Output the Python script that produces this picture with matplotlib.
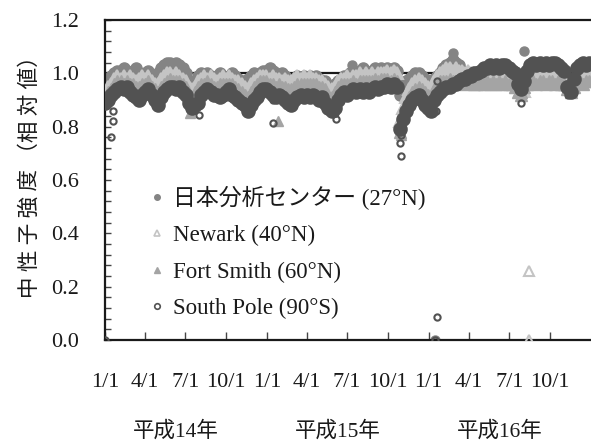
import matplotlib
matplotlib.use("Agg")
import matplotlib.pyplot as plt
import matplotlib.ticker as mticker
import matplotlib.transforms as mtransforms
import pandas as pd
from matplotlib.lines import Line2D

# ---- weekly relative neutron intensity, starting 2002-01-01 ----
start_date = "2002-01-01"
n_weeks = 157

jcac = [
    0.95, 0.97, 0.99, 1.00, 1.01, 1.00, 1.02, 1.01, 1.00, 1.01,
    1.02, 1.00, 0.99, 1.00, 1.01, 0.99, 0.98, 1.00, 1.02, 1.03,
    1.04, 1.04, 1.03, 1.04, 1.03, 1.02, 1.00, 0.97, 0.96, 0.97,
    0.99, 1.00, 0.99, 1.00, 0.99, 0.98, 0.99, 1.00, 0.99, 0.98,
    0.99, 1.00, 0.99, 0.98, 0.97, 0.96, 0.98, 0.99, 1.00, 0.99,
    1.00, 1.01, 1.01, 1.02, 1.01, 1.00, 0.99, 1.00, 0.99, 0.98,
    0.97, 0.98, 0.99, 0.98, 0.99, 0.98, 0.99, 0.98, 0.99, 0.98,
    0.97, 0.97, 0.95, 0.94, 0.96, 0.97, 0.98, 0.99, 0.99, 1.00,
    1.01, 1.00, 1.01, 1.02, 1.01, 1.00, 1.01, 1.02, 1.01, 1.02,
    1.01, 1.02, 1.01, 1.02, 1.01, 0.92, 0.95, 0.97, 0.98, 0.99,
    1.00, 1.00, 0.99, 0.98, 0.97, 0.96, 0.98, 0.99, 1.00, 1.02,
    1.03, 1.04, 1.05, 1.04, 1.03, 1.01, 1.00, 0.99, 0.99, 0.98,
    0.98, 0.98, 0.97, 0.98, 0.99, 0.98, 0.98, 0.99, 0.98, 0.98,
    0.97, 0.97, 0.96, 0.94, 0.95, 0.97, 0.98, 0.99, 0.98, 0.99,
    0.99, 0.98, 0.99, 0.98, 0.98, 0.99, 0.98, 0.98, 0.97, 0.95,
    0.94, 0.96, 0.98, 0.99, 0.98, 0.99, 0.98,
]

newark = [
    0.93, 0.95, 0.96, 0.98, 0.99, 0.98, 0.99, 0.98, 0.99, 0.98,
    0.97, 0.98, 0.99, 0.98, 0.99, 0.97, 0.96, 0.96, 0.98, 0.99,
    1.00, 1.00, 0.99, 1.00, 0.99, 0.98, 0.97, 0.95, 0.94, 0.95,
    0.97, 0.98, 0.99, 0.98, 0.99, 0.98, 0.97, 0.98, 0.99, 0.98,
    0.99, 0.98, 0.97, 0.97, 0.96, 0.95, 0.94, 0.96, 0.97, 0.98,
    0.99, 0.99, 0.99, 0.98, 0.99, 0.98, 0.98, 0.97, 0.98, 0.97,
    0.97, 0.98, 0.99, 0.98, 0.99, 0.98, 0.99, 0.98, 0.98, 0.97,
    0.97, 0.96, 0.95, 0.94, 0.95, 0.97, 0.98, 0.98, 0.99, 0.98,
    0.99, 0.99, 1.00, 0.99, 1.00, 0.99, 1.00, 0.99, 1.00, 1.00,
    1.00, 1.01, 1.00, 1.01, 1.00, 0.82, 0.87, 0.91, 0.94, 0.96,
    0.97, 0.98, 0.97, 0.96, 0.95, 0.94, 0.97, 0.99, 1.00, 1.01,
    1.02, 1.02, 1.01, 1.02, 1.01, 1.01, 1.00, 1.01, 1.00, 1.00,
    1.00, 0.99, 1.00, 0.99, 1.00, 0.99, 1.00, 0.99, 1.00, 0.99,
    0.99, 0.98, 0.97, 0.95, 0.94, 0.96, 0.98, 0.99, 1.00, 0.99,
    1.00, 0.99, 1.00, 0.99, 1.00, 0.99, 0.99, 0.98, 0.98, 0.96,
    0.95, 0.97, 0.99, 1.00, 0.99, 1.00, 0.99,
]

fort_smith = [
    0.91, 0.93, 0.94, 0.96, 0.97, 0.97, 0.96, 0.97, 0.96, 0.96,
    0.95, 0.95, 0.96, 0.96, 0.97, 0.95, 0.94, 0.93, 0.95, 0.96,
    0.97, 0.98, 0.97, 0.97, 0.97, 0.96, 0.95, 0.92, 0.91, 0.93,
    0.95, 0.96, 0.96, 0.97, 0.96, 0.95, 0.95, 0.96, 0.96, 0.96,
    0.96, 0.96, 0.95, 0.94, 0.93, 0.92, 0.91, 0.93, 0.95, 0.96,
    0.97, 0.97, 0.97, 0.96, 0.96, 0.95, 0.96, 0.95, 0.95, 0.94,
    0.94, 0.95, 0.96, 0.96, 0.96, 0.96, 0.96, 0.96, 0.96, 0.95,
    0.95, 0.94, 0.92, 0.91, 0.93, 0.95, 0.96, 0.96, 0.96, 0.96,
    0.97, 0.96, 0.97, 0.97, 0.97, 0.97, 0.97, 0.98, 0.97, 0.98,
    0.98, 0.98, 0.97, 0.98, 0.97, 0.78, 0.84, 0.88, 0.91, 0.93,
    0.94, 0.95, 0.94, 0.93, 0.92, 0.91, 0.94, 0.96, 0.97, 0.97,
    0.97, 0.98, 0.97, 0.97, 0.97, 0.97, 0.96, 0.97, 0.97, 0.96,
    0.96, 0.97, 0.96, 0.97, 0.96, 0.97, 0.96, 0.97, 0.96, 0.97,
    0.96, 0.96, 0.95, 0.93, 0.92, 0.95, 0.96, 0.97, 0.97, 0.96,
    0.97, 0.97, 0.96, 0.97, 0.97, 0.96, 0.97, 0.96, 0.96, 0.94,
    0.93, 0.95, 0.97, 0.97, 0.96, 0.97, 0.97,
]

south_pole = [
    0.89, 0.90, 0.92, 0.93, 0.94, 0.95, 0.94, 0.95, 0.93, 0.92,
    0.91, 0.90, 0.92, 0.93, 0.94, 0.92, 0.90, 0.88, 0.91, 0.93,
    0.94, 0.95, 0.95, 0.94, 0.95, 0.93, 0.92, 0.89, 0.87, 0.88,
    0.89, 0.92, 0.93, 0.94, 0.93, 0.92, 0.92, 0.91, 0.92, 0.93,
    0.94, 0.92, 0.91, 0.90, 0.89, 0.88, 0.86, 0.88, 0.90, 0.91,
    0.93, 0.94, 0.94, 0.93, 0.92, 0.91, 0.92, 0.91, 0.90, 0.89,
    0.88, 0.90, 0.91, 0.92, 0.91, 0.92, 0.91, 0.92, 0.91, 0.90,
    0.91, 0.89, 0.87, 0.86, 0.87, 0.90, 0.92, 0.93, 0.92, 0.93,
    0.94, 0.93, 0.94, 0.93, 0.94, 0.93, 0.94, 0.95, 0.94, 0.95,
    0.95, 0.96, 0.95, 0.96, 0.95, 0.79, 0.83, 0.86, 0.88, 0.90,
    0.91, 0.92, 0.90, 0.88, 0.87, 0.86, 0.90, 0.92, 0.93, 0.94,
    0.95, 0.95, 0.96, 0.96, 0.97, 0.98, 0.98, 0.99, 0.99, 1.00,
    1.00, 1.01, 1.02, 1.02, 1.03, 1.02, 1.03, 1.02, 1.03, 1.03,
    1.02, 1.01, 1.00, 0.96, 0.94, 0.97, 1.01, 1.03, 1.04, 1.03,
    1.04, 1.03, 1.04, 1.03, 1.04, 1.04, 1.03, 1.02, 1.01, 0.95,
    0.93, 0.98, 1.02, 1.03, 1.04, 1.03, 1.04,
]

# ---- isolated daily readings (spikes and drop-outs) ----
jcac_extra_dates = ["2003-07-13", "2004-01-16", "2004-02-24", "2004-08-04"]
jcac_extra = [1.03, 0.0, 1.075, 1.083]

newark_extra_dates = ["2004-08-06", "2004-08-15", "2004-08-15"]
newark_extra = [0.93, 0.26, 0.0]

fort_smith_extra_dates = ["2002-07-12", "2003-01-26", "2003-10-30", "2003-10-31", "2004-07-29"]
fort_smith_extra = [0.85, 0.82, 0.77, 0.80, 0.925]

south_pole_extra_dates = [
    "2002-01-01", "2002-01-15", "2002-01-18", "2002-01-20", "2002-08-02",
    "2003-01-15", "2003-01-15", "2003-06-01", "2003-06-03", "2003-06-05",
    "2003-10-28", "2003-10-29", "2003-10-30", "2003-10-31", "2004-01-17",
    "2004-01-19", "2004-01-19", "2004-01-16", "2004-07-28", "2004-11-08",
    "2004-11-09", "2004-11-10", "2004-11-11",
]
south_pole_extra = [
    0.0, 0.76, 0.86, 0.82, 0.845,
    0.90, 0.815, 0.87, 0.85, 0.83,
    0.80, 0.74, 0.69, 0.77, 0.86,
    0.97, 0.087, 0.0, 0.89, 0.96,
    0.94, 0.93, 0.92,
]

series_labels = ["日本分析センター (27°N)", "Newark (40°N)", "Fort Smith (60°N)", "South Pole (90°S)"]
x_tick_labels = ["1/1", "4/1", "7/1", "10/1"] * 3
year_labels = ["平成14年", "平成15年", "平成16年"]
y_label = "中 性 子 強 度 （相 対 値）"

# ---- styling ----
serif_cjk = ["Liberation Serif", "Noto Sans CJK JP"]
plt.rcParams["font.family"] = serif_cjk
ink = "#1a1a1a"

c_jcac = "#848484"
c_newark = "#c4c4c4"
c_fort = "#a4a4a4"
c_sp = "#525252"

fig = plt.figure(figsize=(5.91, 4.44), dpi=100)
ax = fig.add_axes([105 / 591, 104 / 444, 486 / 591, 320 / 444])

weeks = pd.date_range(start_date, periods=n_weeks, freq="7D")

ax.axhline(1.0, color=ink, lw=1.6, zorder=1)

ms = 8.0
ax.plot(weeks, jcac, ls="none", marker="o", ms=ms, color=c_jcac, mec=c_jcac, zorder=2)
ax.plot(pd.to_datetime(jcac_extra_dates), jcac_extra, ls="none", marker="o", ms=6.5,
        color=c_jcac, zorder=2)
ax.plot(weeks, newark, ls="none", marker="^", ms=ms, mfc=c_newark, mec=c_newark, mew=1.5, zorder=3)
ax.plot(pd.to_datetime(newark_extra_dates), newark_extra, ls="none", marker="^", ms=6.5,
        mfc="none", mec=c_newark, mew=1.5, zorder=3)
ax.plot(weeks, fort_smith, ls="none", marker="^", ms=ms, color=c_fort, mec=c_fort, zorder=4)
ax.plot(pd.to_datetime(fort_smith_extra_dates), fort_smith_extra, ls="none", marker="^",
        ms=7, color=c_fort, zorder=4)
ax.plot(weeks, south_pole, ls="none", marker="o", ms=ms + 1.0, mfc=c_sp, mec=c_sp,
        mew=1.5, zorder=5)
ax.plot(pd.to_datetime(south_pole_extra_dates), south_pole_extra, ls="none", marker="o", ms=4.5,
        mfc="none", mec=c_sp, mew=1.5, zorder=5)

# ---- axes ----
ax.set_xlim(pd.Timestamp("2002-01-01"), pd.Timestamp("2005-01-01"))
ax.set_ylim(0.0, 1.2)

quarter_ticks = pd.date_range("2002-01-01", "2004-10-01", freq="QS")
ax.set_xticks(quarter_ticks)
ax.set_xticklabels(x_tick_labels)
ax.yaxis.set_major_locator(mticker.MultipleLocator(0.2))
ax.yaxis.set_minor_locator(mticker.MultipleLocator(0.04))
ax.yaxis.set_major_formatter(mticker.FormatStrFormatter("%.1f"))

ax.tick_params(axis="x", direction="in", length=6, width=1.0, color="#444444",
               pad=24, labelsize=16, labelcolor=ink)
ax.tick_params(axis="y", which="both", direction="in", length=4.5, width=1.0, color="#444444",
               pad=19, labelsize=16, labelcolor=ink)

for side in ("left", "bottom", "top"):
    ax.spines[side].set_linewidth(1.6)
    ax.spines[side].set_color(ink)
ax.spines["right"].set_visible(False)

# year captions centred under each year
trans = mtransforms.blended_transform_factory(ax.transData, ax.transAxes)
for yr, lab in zip((2002, 2003, 2004), year_labels):
    ax.text(pd.Timestamp(f"{yr}-06-10"), -0.285, lab, transform=trans, ha="center", va="center",
            fontsize=15.5, color=ink)

fig.text(30 / 591, 1 - 172 / 444, y_label, rotation=90, ha="center", va="center",
         fontsize=15.5, color=ink)

# ---- legend ----
handles = [
    Line2D([], [], ls="none", marker="o", ms=4, color=c_jcac),
    Line2D([], [], ls="none", marker="^", ms=4.5, mfc="none", mec=c_newark, mew=1.2),
    Line2D([], [], ls="none", marker="^", ms=4.5, color=c_fort),
    Line2D([], [], ls="none", marker="o", ms=4, mfc="none", mec=c_sp, mew=1.2),
]
leg = ax.legend(handles, series_labels, loc="upper left", frameon=False,
                bbox_to_anchor=(150 / 591, 1 - 186 / 444), bbox_transform=fig.transFigure,
                fontsize=16.5, handlelength=0.6, handletextpad=0.4, labelspacing=0.66,
                borderaxespad=0, borderpad=0)
for t in leg.get_texts():
    t.set_color(ink)

fig.savefig("out.png", dpi=100)
